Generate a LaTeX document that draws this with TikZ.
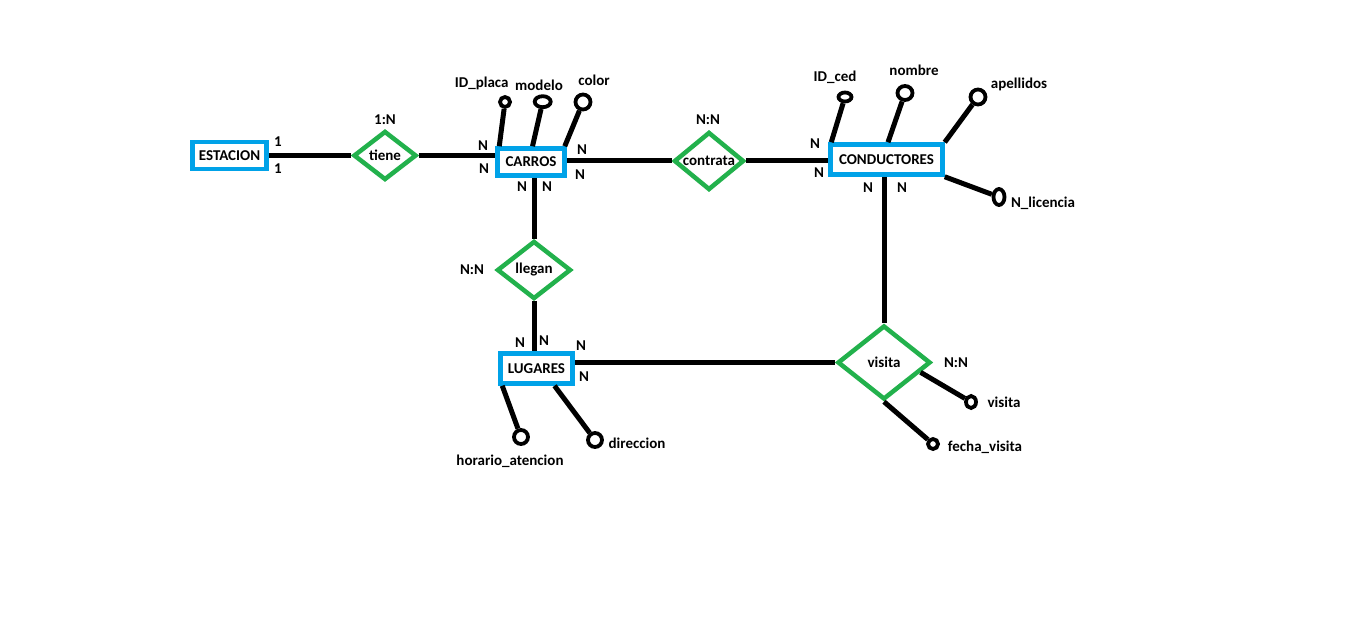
\documentclass[tikz,border=0pt]{standalone}
\usepackage{fontspec}
\setmainfont{Carlito}
\usetikzlibrary{shapes.geometric,calc}
\definecolor{pblue}{HTML}{00A2E8}
\definecolor{pgreen}{HTML}{22B14C}
\begin{document}
\begin{tikzpicture}[x=1pt,y=-1pt,
  txt/.style={font=\bfseries\fontsize{15}{17}\selectfont, inner sep=0pt},
  ent/.style={draw=pblue, line width=4.5pt, rectangle, inner sep=0pt, fill=white, txt},
  rel/.style={draw=pgreen, line width=4.5pt, diamond, inner sep=0pt, fill=white},
  attr/.style={draw=black, line width=3.8pt, ellipse, inner sep=0pt},
  conn/.style={line width=5pt, black}]
\useasboundingbox[fill=white] (0,0) rectangle (1360,623);

% entities
\node[ent, minimum width=74pt, minimum height=27pt] (est) at (229.5,155.5) {ESTACION};
\node[ent, minimum width=67pt, minimum height=27pt] (carros) at (531,162) {CARROS};
\node[ent, minimum width=112pt, minimum height=30pt] (cond) at (886.5,159.5) {CONDUCTORES};
\node[ent, minimum width=72pt, minimum height=30pt] (lug) at (536.5,368.5) {LUGARES};

% relationships
\node[rel, minimum width=63pt, minimum height=49pt, label={[txt]center:tiene}] (tiene) at (385,155.5) {};
\node[rel, minimum width=70pt, minimum height=58pt, label={[txt]center:contrata}] (contrata) at (709,161) {};
\node[rel, minimum width=74pt, minimum height=58pt, label={[txt]center:llegan}] (llegan) at (534,270) {};
\node[rel, minimum width=93pt, minimum height=74pt, label={[txt]center:visita}] (visita) at (884,362.5) {};

% attributes
\node[attr, minimum width=10pt, minimum height=10pt] (idp) at (505,102) {};
\node[attr, minimum width=16pt, minimum height=11pt] (mod) at (542.7,101.7) {};
\node[attr, minimum width=15pt, minimum height=15pt] (col) at (583,102) {};
\node[attr, minimum width=13pt, minimum height=9pt] (idc) at (845,97) {};
\node[attr, minimum width=15pt, minimum height=14pt] (nom) at (905,93) {};
\node[attr, minimum width=15pt, minimum height=15pt] (ape) at (978,97) {};
\node[attr, minimum width=11pt, minimum height=16pt] (lic) at (999,197) {};
\node[attr, minimum width=14pt, minimum height=14pt] (hor) at (521,437) {};
\node[attr, minimum width=14pt, minimum height=14pt] (dir) at (595,440) {};
\node[attr, minimum width=10pt, minimum height=12pt] (vis) at (971,402) {};
\node[attr, minimum width=10pt, minimum height=10pt] (fec) at (933,444) {};

% connectors
\draw[conn] (est.east) -- (tiene.west);
\draw[conn] (tiene.east) -- (tiene.east -| carros.west);
\draw[conn] (carros.east |- contrata.west) -- (contrata.west);
\draw[conn] (contrata.east) -- (contrata.east -| cond.west);
\draw[conn] (llegan.north |- carros.south) -- (llegan.north);
\draw[conn] (llegan.south) -- (llegan.south |- lug.north);
\draw[conn] (lug.east |- visita.west) -- (visita.west);
\draw[conn] (visita.north |- cond.south) -- (visita.north);

\draw[conn] ([xshift=4pt]carros.north west) -- (idp);
\draw[conn] ([xshift=1.5pt]carros.north) -- (mod);
\draw[conn] ([xshift=-2pt]carros.north east) -- (col);
\draw[conn] ([xshift=3pt]cond.north west) -- (idc);
\draw[conn] ([xshift=1.5pt]cond.north) -- (nom);
\draw[conn] (cond.north east) -- (ape);
\draw[conn] (cond.south east) -- (lic);
\draw[conn] ([xshift=4pt]lug.south west) -- (hor);
\draw[conn] ([xshift=18pt]lug.south) -- (dir);
\draw[conn] ($(visita.east)!0.25!(visita.south)$) -- (vis);
\draw[conn] (visita.south) -- (fec);

% attribute labels
\node[txt] (lidp) at (481.7,83) {ID\_placa};
\node[txt] (lmod) at (539,85) {modelo};
\node[txt] (lcol) at (594,80) {color};
\node[txt] (lidc) at (835,77) {ID\_ced};
\node[txt] (lnom) at (914,70) {nombre};
\node[txt] (lape) at (1019,84) {apellidos};
\node[txt] (llic) at (1043,203) {N\_licencia};
\node[txt] (lhor) at (510,461) {horario\_atencion};
\node[txt] (ldir) at (637,443) {direccion};
\node[txt] (lvis) at (1004,402) {visita};
\node[txt] (lfec) at (985,447) {fecha\_visita};

% cardinalities
\node[txt] (c1) at (385,120) {1:N};
\node[txt] (c2) at (708,120) {N:N};
\node[txt] (c3) at (472,270) {N:N};
\node[txt] (c4) at (956,363) {N:N};
\node[txt] (e1) at (278,142) {1};
\node[txt] (e2) at (278,169) {1};
\node[txt] (n1) at (483,146) {N};
\node[txt] (n2) at (484,169) {N};
\node[txt] (n3) at (582,150) {N};
\node[txt] (n4) at (580,175) {N};
\node[txt] (n5) at (522,187) {N};
\node[txt] (n6) at (547,187) {N};
\node[txt] (n7) at (815,144) {N};
\node[txt] (n8) at (819,173) {N};
\node[txt] (n9) at (868,188) {N};
\node[txt] (n10) at (902,188) {N};
\node[txt] (n11) at (520,343) {N};
\node[txt] (n12) at (544,341) {N};
\node[txt] (n13) at (581,346) {N};
\node[txt] (n14) at (584,377) {N};
\end{tikzpicture}
\end{document}
